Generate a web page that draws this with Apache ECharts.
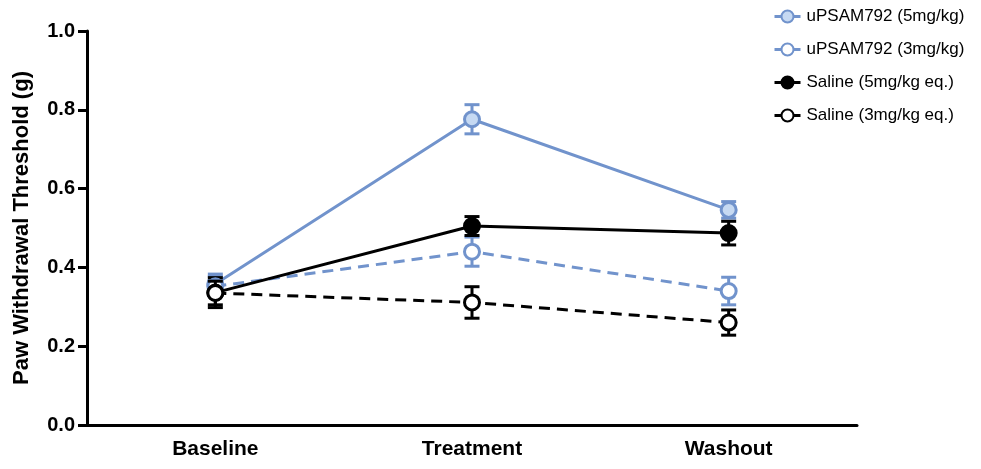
<!DOCTYPE html>
<html><head><meta charset="utf-8">
<script src="https://cdn.jsdelivr.net/npm/echarts@6/dist/echarts.min.js"></script>
<style>html,body{margin:0;padding:0;background:#fff}#c{width:981px;height:469px}</style>
</head><body><div id="c"></div>
<script>
const categories = ['Baseline', 'Treatment', 'Washout'];
const seriesNames = ['uPSAM792 (5mg/kg)', 'uPSAM792 (3mg/kg)', 'Saline (5mg/kg eq.)', 'Saline (3mg/kg eq.)'];
const upsam5Mean = [0.358, 0.776, 0.546];
const upsam5Sem  = [0.025, 0.037, 0.021];
const upsam3Mean = [0.352, 0.440, 0.340];
const upsam3Sem  = [0.025, 0.037, 0.035];
const saline5Mean = [0.336, 0.505, 0.487];
const saline5Sem  = [0.038, 0.024, 0.030];
const saline3Mean = [0.335, 0.311, 0.260];
const saline3Sem  = [0.030, 0.040, 0.032];
const yTicks = [0, 0.2, 0.4, 0.6, 0.8, 1.0];

const BLUE = '#7193cc', LIGHT = '#c6d9f2', BLACK = '#000000';
const styles = [
  {color: BLUE, fill: LIGHT, dash: 'solid'},
  {color: BLUE, fill: '#ffffff', dash: [11, 7]},
  {color: BLACK, fill: BLACK, dash: 'solid'},
  {color: BLACK, fill: '#ffffff', dash: [11, 7]}
];
const means = [upsam5Mean, upsam3Mean, saline5Mean, saline3Mean];
const sems = [upsam5Sem, upsam3Sem, saline5Sem, saline3Sem];
const FONT = 'Liberation Sans, Arial, sans-serif';

const chart = echarts.init(document.getElementById('c'), null, {renderer: 'canvas'});
const series = [];
const order = [3, 1, 2, 0];
order.forEach(i => {
  const st = styles[i];
  series.push({
    type: 'custom',
    name: seriesNames[i] + ' err',
    z: 2 + i,
    data: means[i].map((m, k) => [k, m - sems[i][k], m + sems[i][k]]),
    renderItem: function (params, api) {
      const x = api.value(0);
      const lo = api.coord([x, api.value(1)]);
      const hi = api.coord([x, api.value(2)]);
      const w = 7.5;
      return {
        type: 'group',
        children: [
          {type: 'line', shape: {x1: lo[0], y1: lo[1], x2: hi[0], y2: hi[1]}, style: {stroke: st.color, lineWidth: 3}},
          {type: 'line', shape: {x1: lo[0] - w, y1: lo[1], x2: lo[0] + w, y2: lo[1]}, style: {stroke: st.color, lineWidth: 3}},
          {type: 'line', shape: {x1: hi[0] - w, y1: hi[1], x2: hi[0] + w, y2: hi[1]}, style: {stroke: st.color, lineWidth: 3}}
        ]
      };
    },
    silent: true
  });
  series.push({
    type: 'line',
    name: seriesNames[i],
    z: 3 + i,
    data: means[i],
    symbol: 'circle',
    symbolSize: 15,
    lineStyle: {color: st.color, width: 3, type: st.dash},
    itemStyle: {color: st.fill, borderColor: st.color, borderWidth: 3},
    emphasis: {disabled: true},
    animation: false
  });
});

chart.setOption({
  animation: false,
  backgroundColor: '#ffffff',
  grid: {left: 87, right: 124, top: 31, bottom: 44},
  legend: {
    orient: 'vertical',
    left: 768,
    top: 3,
    itemGap: 16,
    itemWidth: 26,
    itemHeight: 15,
    data: seriesNames,
    lineStyle: {type: 'solid', width: 3},
    textStyle: {fontFamily: FONT, fontSize: 17, color: '#000', padding: [0, 0, 0, 1]},
    selectedMode: false
  },
  xAxis: {
    type: 'category',
    data: categories,
    boundaryGap: true,
    axisLine: {lineStyle: {color: '#000', width: 3}},
    axisTick: {alignWithLabel: true, length: 8, lineStyle: {color: '#000', width: 3}},
    axisLabel: {fontFamily: FONT, fontWeight: 'bold', fontSize: 21, color: '#000', margin: 14}
  },
  yAxis: {
    type: 'value',
    min: 0, max: 1, interval: 0.2,
    name: 'Paw Withdrawal Threshold (g)',
    nameLocation: 'middle',
    nameGap: 54,
    nameTextStyle: {fontFamily: FONT, fontWeight: 'bold', fontSize: 22, color: '#000'},
    axisLine: {show: true, lineStyle: {color: '#000', width: 3}},
    axisTick: {show: true, length: 9, lineStyle: {color: '#000', width: 3}},
    splitLine: {show: false},
    axisLabel: {fontFamily: FONT, fontWeight: 'bold', fontSize: 20, color: '#000', margin: 12,
      formatter: v => yTicks.includes(Math.round(v * 10) / 10) ? v.toFixed(1) : ''}
  },
  series: series
});
</script></body></html>
